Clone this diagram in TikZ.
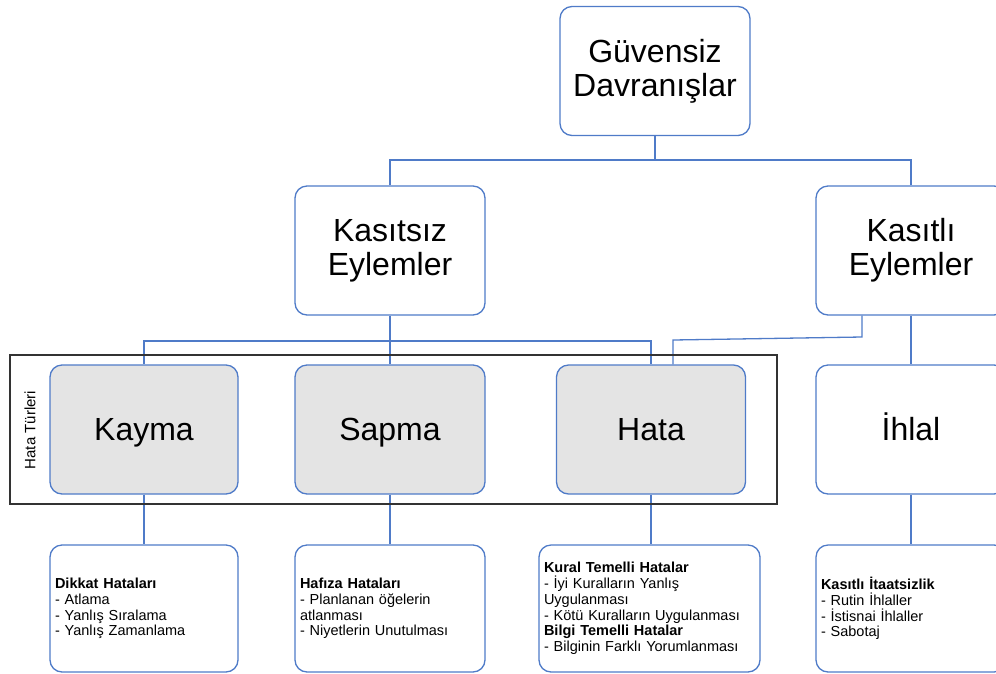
\documentclass[tikz,border=0pt]{standalone}
\usepackage{fontspec}
\setmainfont{Liberation Sans}
\definecolor{boxblue}{HTML}{4F7BC8}
\definecolor{boxgray}{HTML}{E4E4E4}
\definecolor{framegray}{HTML}{333333}
\newcommand{\eqh}{\vphantom{İy}}
\begin{document}
\begin{tikzpicture}[x=1pt,y=-1pt,
  bigbox/.style={draw=boxblue,line width=1.3pt,rounded corners=12pt,fill=white,inner sep=0pt,align=center,font=\fontsize{32}{34}\selectfont,minimum height=129pt},
  graybox/.style={bigbox,fill=boxgray},
  smallbox/.style={draw=boxblue,line width=1.3pt,rounded corners=12pt,fill=white,inner xsep=5pt,inner ysep=0pt,align=left,font=\fontsize{14.5}{15.8}\selectfont,minimum height=127pt},
  conn/.style={draw=boxblue,line width=1.3pt},
  framebox/.style={draw=framegray,line width=1.8pt,inner sep=0pt}]
\useasboundingbox (0,0) rectangle (996,673);
% top levels
\node[bigbox,minimum width=190pt] (gd) at (655,71) {Güvensiz\\Davranışlar};
\node[bigbox,minimum width=190pt] (ksz) at (390,250.5) {Kasıtsız\\Eylemler};
\node[bigbox,minimum width=190pt] (ktl) at (911,250.5) {Kasıtlı\\Eylemler};
% second row
\node[graybox,minimum width=188pt] (kayma) at (144,429.5) {\eqh Kayma};
\node[graybox,minimum width=190pt] (sapma) at (390,429.5) {\eqh Sapma};
\node[graybox,minimum width=189pt] (hata) at (651,429.5) {\eqh Hata};
\node[bigbox,minimum width=190pt] (ihlal) at (911,429.5) {\eqh İhlal};
% third row
\node[smallbox,text width=178pt] (dikkat) at (144,608.5) {\textbf{Dikkat Hataları}\\- Atlama\\- Yanlış Sıralama\\- Yanlış Zamanlama};
\node[smallbox,text width=180pt] (hafiza) at (390,608.5) {\textbf{Hafıza Hataları}\\- Planlanan öğelerin\\atlanması\\- Niyetlerin Unutulması};
\node[smallbox,text width=211pt] (kural) at (649.5,608.5) {\textbf{Kural Temelli Hatalar}\\- İyi Kuralların Yanlış\\Uygulanması\\- Kötü Kuralların Uygulanması\\\textbf{Bilgi Temelli Hatalar}\\- Bilginin Farklı Yorumlanması};
\node[smallbox,text width=180pt] (itaat) at (911,608.5) {\textbf{Kasıtlı İtaatsizlik}\\- Rutin İhlaller\\- İstisnai İhlaller\\- Sabotaj};
% connectors
\coordinate (j1) at (655,160);
\draw[conn] (gd.south) -- (j1);
\draw[conn] (ksz.north) |- (j1) -| (ktl.north);
\coordinate (j2) at (390,341);
\draw[conn] (ksz.south) -- (sapma.north);
\draw[conn] (kayma.north) |- (j2) -| (hata.north);
\coordinate (kx) at (862,337);
\coordinate (hx) at (673,340);
\draw[conn] (ktl.south -| kx) -- (kx) -- (hx) -- (hata.north -| hx);
\draw[conn] (ktl.south) -- (ihlal.north);
\draw[conn] (kayma.south) -- (dikkat.north);
\draw[conn] (sapma.south) -- (hafiza.north);
\draw[conn] (hata.south) -- (hata.south |- kural.north);
\draw[conn] (ihlal.south) -- (itaat.north);
% frame of error types
\node[framebox,minimum width=767pt,minimum height=149pt] (frame) at (393.5,429.5) {};
\node[rotate=90,font=\fontsize{15}{16}\selectfont] (ht) at (30,430) {Hata Türleri};
\end{tikzpicture}
\end{document}
